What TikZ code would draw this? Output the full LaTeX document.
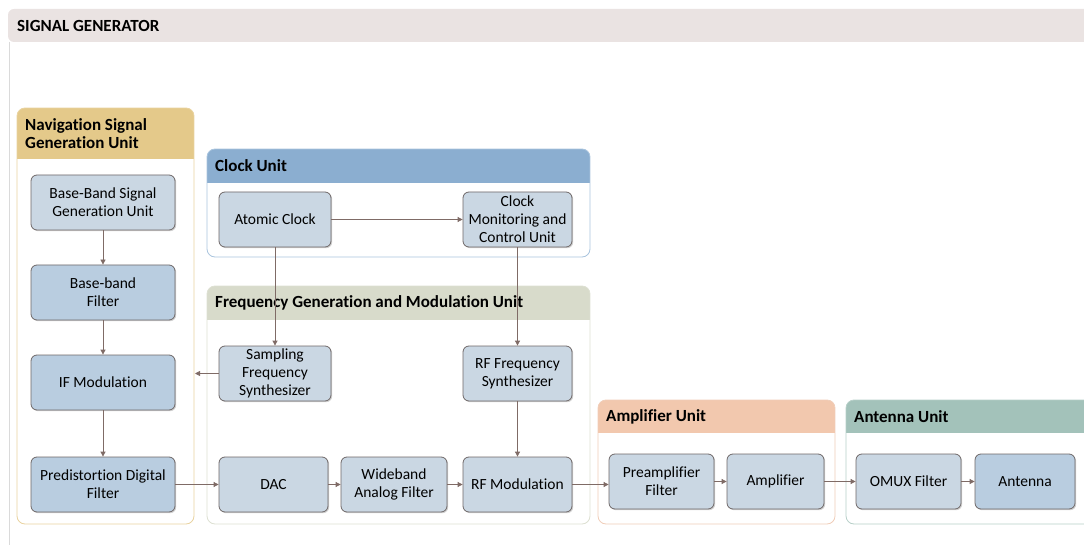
\documentclass[tikz,border=0pt]{standalone}
\usepackage{fontspec}
\setmainfont{Carlito}[Ligatures={NoCommon}]
\usetikzlibrary{arrows.meta,shadows}
\definecolor{bandgray}{HTML}{EAE3E2}
\definecolor{framegray}{HTML}{DADADA}
\definecolor{navgold}{HTML}{E4C98A}
\definecolor{navline}{HTML}{E9D3A0}
\definecolor{clockblue}{HTML}{8BAED0}
\definecolor{clockline}{HTML}{A9C4DE}
\definecolor{freqgray}{HTML}{D8DBCB}
\definecolor{freqline}{HTML}{DDE0D2}
\definecolor{ampsalmon}{HTML}{F2C8AE}
\definecolor{ampline}{HTML}{F0CDB8}
\definecolor{antgreen}{HTML}{A3C2BA}
\definecolor{antline}{HTML}{B6CFC8}
\definecolor{blkfill}{HTML}{CAD7E3}
\definecolor{blkdark}{HTML}{B9CDE0}
\definecolor{blkline}{HTML}{6F6868}
\definecolor{arrowbrown}{HTML}{7F6B66}
% unit container: (x1,y1)(x2,y2) header bottom, header colour, line colour, title
\def\unitbox(#1,#2)(#3,#4)[#5]#6#7#8{%
  \fill[white,rounded corners=8pt] (#1,#2) rectangle (#3,#4);
  \begin{scope}
    \clip[rounded corners=8pt] (#1,#2) rectangle (#3,#4);
    \fill[#6] (#1,#2) rectangle (#3,#5);
  \end{scope}
  \draw[#7,line width=0.8pt,rounded corners=8pt] (#1,#2) rectangle (#3,#4);
  \node[unittitle,anchor=west] at (#1+8,{(#2+#5)/2}) {#8};}

\begin{document}
\begin{tikzpicture}[x=1pt,y=-1pt,
    blk/.style={draw=blkline,fill=blkfill,line width=0.8pt,rounded corners=6pt,
      align=center,font=\fontsize{15.5}{18}\selectfont,inner sep=2pt,
      drop shadow={shadow xshift=1.2pt,shadow yshift=-1.2pt,opacity=0.35}},
    dark/.style={fill=blkdark},
    unittitle/.style={font=\fontsize{17}{18}\selectfont\bfseries,align=left,inner sep=0pt},
    link/.style={draw=arrowbrown,line width=0.8pt,-{Triangle[width=5pt,length=5pt]}}]
\useasboundingbox (0,0) rectangle (1084,545);

%%%%% FRAME %%%%%
\draw[framegray,line width=0.8pt] (9,42) -- (9,545);
\fill[bandgray,rounded corners=6pt] (8,9) rectangle (1096,42);
\node[unittitle,anchor=west] at (17,25.5) {SIGNAL GENERATOR};

%%%%% UNITS %%%%%
\unitbox(17,108)(194,524)[159]{navgold}{navline}{Navigation Signal\\Generation Unit}
\unitbox(207,149)(590,257)[183]{clockblue}{clockline}{Clock Unit}
\unitbox(207,286)(590,524)[320]{freqgray}{freqline}{Frequency Generation and Modulation Unit}
\unitbox(598,400)(835,524)[433]{ampsalmon}{ampline}{Amplifier Unit}
\unitbox(846,400)(1096,524)[433]{antgreen}{antline}{Antenna Unit}

%%%%% BLOCKS %%%%%
\node[blk,minimum width=144pt,minimum height=55pt] (bbgen) at (103,202.5) {Base-Band Signal\\Generation Unit};
\node[blk,dark,minimum width=144pt,minimum height=55pt] (bbfilt) at (103,292.5) {Base-band\\Filter};
\node[blk,dark,minimum width=144pt,minimum height=55pt] (ifmod) at (103,382.5) {IF Modulation};
\node[blk,dark,minimum width=144pt,minimum height=55pt] (predist) at (103,484.5) {Predistortion Digital\\Filter};

\node[blk,minimum width=112pt,minimum height=55pt] (atomic) at (275,219.5) {Atomic Clock};
\node[blk,minimum width=109pt,minimum height=55pt] (clkmon) at (517.5,219.5) {Clock\\Monitoring and\\Control Unit};

\node[blk,minimum width=112pt,minimum height=55pt] (sampsyn) at (275,373.5) {Sampling\\Frequency\\Synthesizer};
\node[blk,minimum width=109pt,minimum height=55pt] (rfsyn) at (517.5,373.5) {RF Frequency\\Synthesizer};

\node[blk,minimum width=109pt,minimum height=55pt] (dac) at (273.5,484.5) {DAC};
\node[blk,minimum width=106pt,minimum height=55pt] (wbfilt) at (394,484.5) {Wideband\\Analog Filter};
\node[blk,minimum width=109pt,minimum height=55pt] (rfmod) at (517.5,484.5) {RF Modulation};

\node[blk,minimum width=105pt,minimum height=55pt] (preamp) at (661.5,481.5) {Preamplifier\\Filter};
\node[blk,minimum width=97pt,minimum height=55pt] (amp) at (775.5,481.5) {Amplifier};

\node[blk,minimum width=105pt,minimum height=55pt] (omux) at (908.5,481.5) {OMUX Filter};
\node[blk,dark,minimum width=100pt,minimum height=55pt] (antenna) at (1025,481.5) {Antenna};

\coordinate (navedge) at (195,373.5);

%%%%% LINKS %%%%%
\draw[link] (bbgen) -- (bbfilt);
\draw[link] (bbfilt) -- (ifmod);
\draw[link] (ifmod) -- (predist);
\draw[link] (predist) -- (dac);
\draw[link] (sampsyn) -- (navedge);
\draw[link] (atomic) -- (clkmon);
\draw[link] (atomic) -- (sampsyn);
\draw[link] (clkmon) -- (rfsyn);
\draw[link] (rfsyn) -- (rfmod);
\draw[link] (dac) -- (wbfilt);
\draw[link] (wbfilt) -- (rfmod);
\draw[link] (rfmod.east) -- (rfmod.east -| preamp.west);
\draw[link] (preamp) -- (amp);
\draw[link] (amp) -- (omux);
\draw[link] (omux) -- (antenna);
\end{tikzpicture}
\end{document}
